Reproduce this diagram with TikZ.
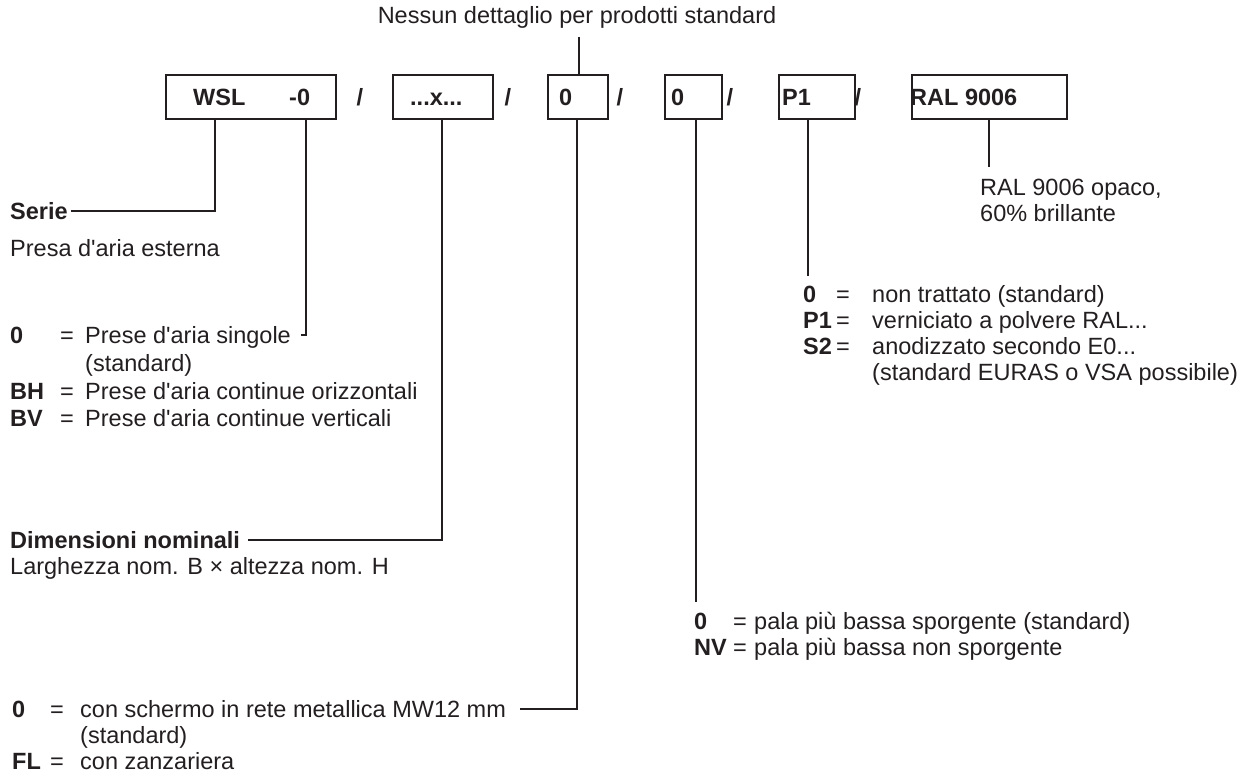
\documentclass[tikz,border=0pt]{standalone}
\usepackage{fontspec}
\setmainfont{Liberation Sans}
\setmonofont{Liberation Sans}
\definecolor{ink}{RGB}{35,31,32}
\newcommand\myfs{\fontsize{23.5}{27}\selectfont}
\newcommand\apo{{\ttfamily'}}
\begin{document}
\begin{tikzpicture}[x=1pt,y=-1pt,
  t/.style={anchor=base west,inner sep=0pt,text height=17pt,text depth=0pt,font=\myfs,text=ink},
  tb/.style={t,font=\myfs\bfseries},
  sl/.style={tb,anchor=base},
  box/.style={draw=ink,line width=1.3pt,inner sep=0pt,minimum height=44pt},
  ln/.style={draw=ink,line width=1.2pt}]
\useasboundingbox (0,0) rectangle (1248,780);

% code boxes
\node[box,minimum width=170pt] (b1) at (251,97) {};
\node[box,minimum width=100pt] (b2) at (443,97) {};
\node[box,minimum width=60pt] (b3) at (578,97) {};
\node[box,minimum width=57pt] (b4) at (693.5,97) {};
\node[box,minimum width=76pt] (b5) at (817,97) {};
\node[box,minimum width=155pt] (b6) at (989.5,97) {};

\node[tb] (wsl) at (193,105.5) {WSL};
\node[tb] (m0) at (289,105.5) {-0};
\node[tb] (xx) at (410,105.5) {...x...};
\node[tb] (z1) at (559,105.5) {0};
\node[tb] (z2) at (671,105.5) {0};
\node[tb] (p1) at (782,105.5) {P1};
\node[tb] (ral) at (910,105.5) {RAL 9006};
\node[sl] (s1) at (360,105.5) {/};
\node[sl] (s2) at (508,105.5) {/};
\node[sl] (s3) at (620,105.5) {/};
\node[sl] (s4) at (730,105.5) {/};
\node[sl] (s5) at (858,105.5) {/};

% top label
\node[t,anchor=base] (nessun) at (577,23.5) {Nessun dettaglio per prodotti standard};

% RAL label
\node[t] (ral1) at (980,195.5) {RAL 9006 opaco,};
\node[t] (ral2) at (980,221.5) {60\% brillante};

% Serie
\node[tb] (serie) at (10,219.5) {Serie};
\node[t] (presa) at (10,256.5) {Presa d\apo aria esterna};

\node[tb] (k1) at (10,343.5) {0};
\node[t] (e1) at (60,343.5) {=};
\node[t] (v1) at (85,343.5) {Prese d\apo aria singole};
\node[t] (v1b) at (85,371.5) {(standard)};
\node[tb] (k2) at (10,399.5) {BH};
\node[t] (e2) at (60,399.5) {=};
\node[t] (v2) at (85,399.5) {Prese d\apo aria continue orizzontali};
\node[tb] (k3) at (10,426.5) {BV};
\node[t] (e3) at (60,426.5) {=};
\node[t] (v3) at (85,426.5) {Prese d\apo aria continue verticali};

% Dimensioni
\node[tb] (dim) at (10,548.5) {Dimensioni nominali};
\node[t] (larg) at (10,574.5) {Larghezza nom. B × altezza nom. H};

% bottom list
\node[tb] (q1) at (12,717.5) {0};
\node[t] (qe1) at (50,717.5) {=};
\node[t] (mw) at (80,717.5) {con schermo in rete metallica MW12 mm};
\node[t] (mwb) at (80,743.5) {(standard)};
\node[tb] (q2) at (12,769.5) {FL};
\node[t] (qe2) at (50,769.5) {=};
\node[t] (zz) at (80,769.5) {con zanzariera};

% pala list
\node[tb] (n1) at (694,629.5) {0};
\node[t] (ne1) at (733,629.5) {=};
\node[t] (pala1) at (754,629.5) {pala più bassa sporgente (standard)};
\node[tb] (n2) at (694,655.5) {NV};
\node[t] (ne2) at (733,655.5) {=};
\node[t] (pala2) at (754,655.5) {pala più bassa non sporgente};

% surface list
\node[tb] (r1) at (803,302.5) {0};
\node[t] (re1) at (836,302.5) {=};
\node[t] (rv1) at (872,302.5) {non trattato (standard)};
\node[tb] (r2) at (803,328.5) {P1};
\node[t] (re2) at (836,328.5) {=};
\node[t] (rv2) at (872,328.5) {verniciato a polvere RAL...};
\node[tb] (r3) at (803,354.5) {S2};
\node[t] (re3) at (836,354.5) {=};
\node[t] (rv3) at (872,354.5) {anodizzato secondo E0...};
\node[t] (rv3b) at (872,380.5) {(standard EURAS o VSA possibile)};

% connectors
\coordinate (a1) at (215,119);
\coordinate (a2) at (306,119);
\coordinate (a3) at (442,119);
\coordinate (a4) at (579,75);
\coordinate (a5) at (577,119);
\coordinate (a6) at (696,119);
\coordinate (a6e) at (696,602);
\coordinate (a7) at (808,119);
\coordinate (a7e) at (808,276);
\coordinate (a8) at (989,119);
\coordinate (a8e) at (989,167);

\draw[ln] ([xshift=3pt]serie.east) -| (a1);
\draw[ln] (a2) |- ([xshift=10pt]v1.east);
\draw[ln] (a3) |- ([xshift=8pt]dim.east);
\draw[ln] (a4) -- ([yshift=-13pt]nessun.south -| a4);
\draw[ln] (a5) |- ([xshift=14pt]mw.east);
\draw[ln] (a6) -- (a6e);
\draw[ln] (a7) -- (a7e);
\draw[ln] (a8) -- (a8e);
\end{tikzpicture}
\end{document}
